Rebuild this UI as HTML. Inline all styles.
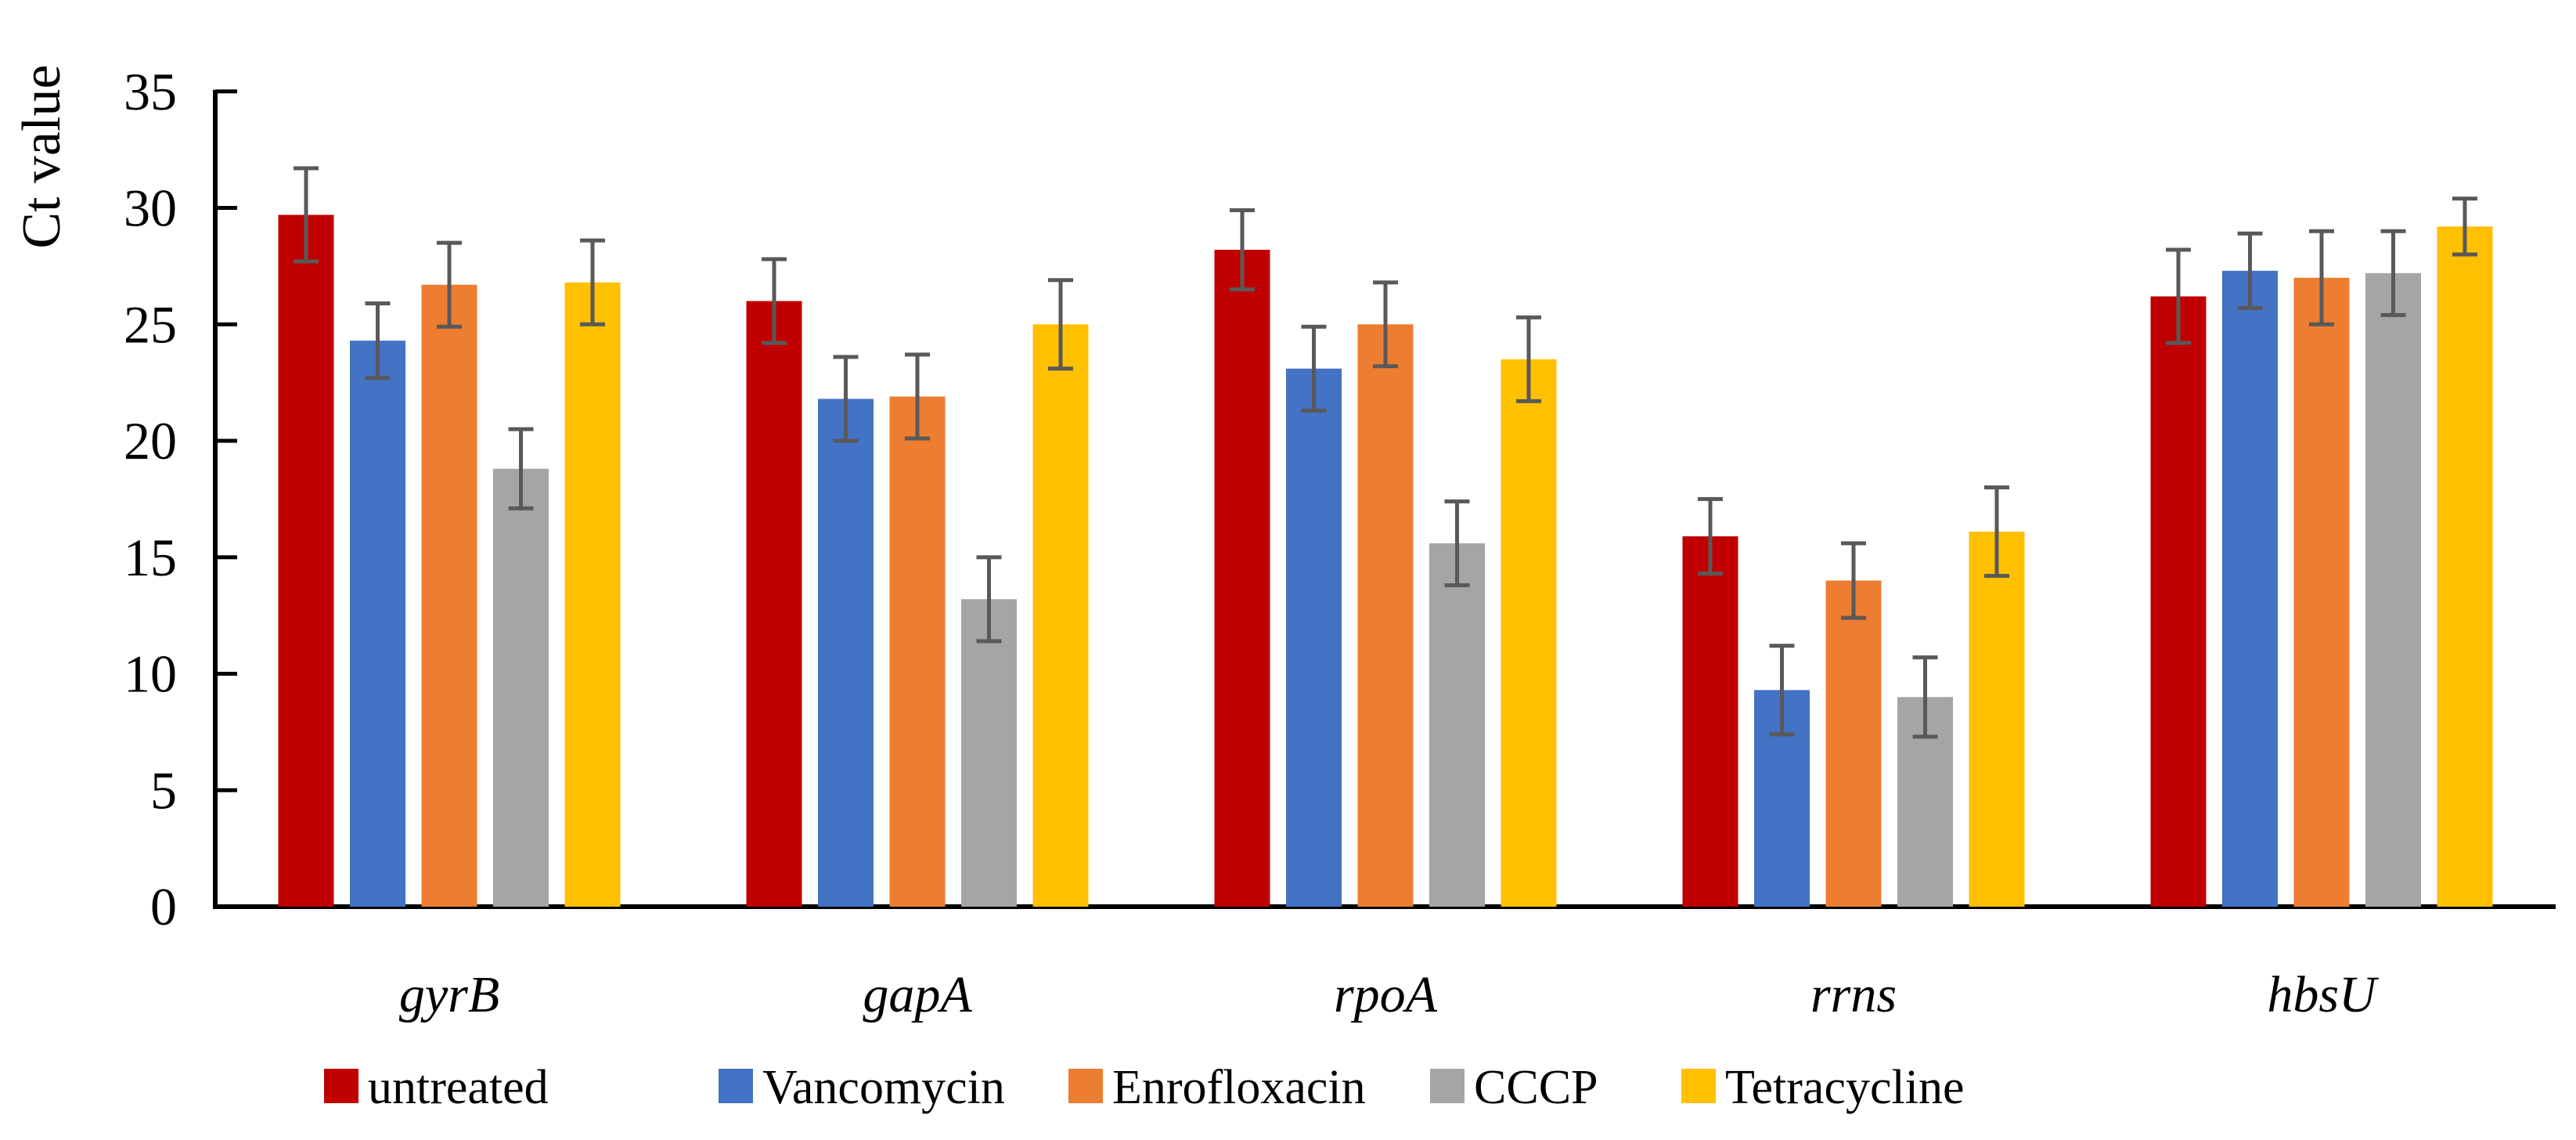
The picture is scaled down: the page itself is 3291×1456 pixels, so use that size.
<!DOCTYPE html>
<html><head><meta charset="utf-8"><style>
html,body{margin:0;padding:0;background:#fff;}
svg{display:block;font-family:"Liberation Serif",serif;}
</style></head><body>
<svg id="chart" width="3291" height="1456" viewBox="0 0 3291 1456">
<g id="axes"></g><g id="bars"></g><g id="legend"></g>
</svg>
<script>
const categories = ["gyrB","gapA","rpoA","rrns","hbsU"];
const seriesNames = ["untreated","Vancomycin","Enrofloxacin","CCCP","Tetracycline"];
const untreated = [29.7, 26.0, 28.2, 15.9, 26.2];
const vancomycin = [24.3, 21.8, 23.1, 9.3, 27.3];
const enrofloxacin = [26.7, 21.9, 25.0, 14.0, 27.0];
const cccp = [18.8, 13.2, 15.6, 9.0, 27.2];
const tetracycline = [26.8, 25.0, 23.5, 16.1, 29.2];
const errUntreated = [2.0, 1.8, 1.7, 1.6, 2.0];
const errVancomycin = [1.6, 1.8, 1.8, 1.9, 1.6];
const errEnrofloxacin = [1.8, 1.8, 1.8, 1.6, 2.0];
const errCccp = [1.7, 1.8, 1.8, 1.7, 1.8];
const errTetracycline = [1.8, 1.9, 1.8, 1.9, 1.2];
const yTicks = [0,5,10,15,20,25,30,35];

const colors = ["#c00000","#4472c4","#ed7d31","#a5a5a5","#ffc000"];
const values = [untreated,vancomycin,enrofloxacin,cccp,tetracycline];
const errs = [errUntreated,errVancomycin,errEnrofloxacin,errCccp,errTetracycline];
const NS="http://www.w3.org/2000/svg";
const X0=275, X1=3265, Y0=1158, PPU=29.75;
const groupW=(X1-X0)/categories.length, barW=71, barStep=91.5;
const y=v=>Y0-v*PPU;
const xBar=(g,s)=>X0+g*groupW+groupW/2-(4*barStep+barW)/2+s*barStep;
function mk(tag,attrs,parent){const e=document.createElementNS(NS,tag);for(const k in attrs)e.setAttribute(k,attrs[k]);parent.appendChild(e);return e;}
const axes=document.getElementById('axes'), bars=document.getElementById('bars'), legend=document.getElementById('legend');

yTicks.forEach(t=>{
  const tk=mk('line',{x1:X0,x2:X0+28,y1:y(t),y2:y(t),stroke:'#000','stroke-width':5},axes);
  
  
  const lb=mk('text',{x:226,y:y(t)+23,'text-anchor':'end','font-size':68,fill:'#000'},axes);
  lb.textContent=t;
  
  
});
const ya=mk('line',{x1:X0,x2:X0,y1:y(35)-2,y2:Y0+2,stroke:'#000','stroke-width':6},axes);


const yt=mk('text',{x:0,y:0,transform:'translate(76,200) rotate(-90)','text-anchor':'middle','font-size':70,fill:'#000'},axes);
yt.textContent='Ct value';



categories.forEach((c,g)=>{
  const lb=mk('text',{x:X0+g*groupW+groupW/2,y:1292,'text-anchor':'middle','font-size':66,'font-style':'italic',fill:'#000'},axes);
  lb.textContent=c;
  
  
  values.forEach((arr,s)=>{
    const v=arr[g], bx=xBar(g,s);
    const r=mk('rect',{x:bx,y:y(v),width:barW,height:Y0-y(v),fill:colors[s]},bars);
    
    
    const e=errs[s][g], cx=bx+barW/2;
    const eg=mk('g',{stroke:'#595959','stroke-width':5},bars);
    
    
    mk('line',{x1:cx,x2:cx,y1:y(v+e),y2:y(v-e)},eg);
    mk('line',{x1:cx-16,x2:cx+16,y1:y(v+e),y2:y(v+e)},eg);
    mk('line',{x1:cx-16,x2:cx+16,y1:y(v-e),y2:y(v-e)},eg);
  });
});
const xa=mk('line',{x1:X0-3,x2:X1,y1:Y0,y2:Y0,stroke:'#000','stroke-width':6},axes);



const legX=[414,918,1365,1827,2148];
seriesNames.forEach((n,s)=>{
  const g=mk('g',{},legend);
  
  
  mk('rect',{x:legX[s],y:1365,width:44,height:44,fill:colors[s]},g);
  const t=mk('text',{x:legX[s]+56,y:1409,'font-size':62,fill:'#000'},g);
  t.textContent=n;
});
</script>
</body></html>
